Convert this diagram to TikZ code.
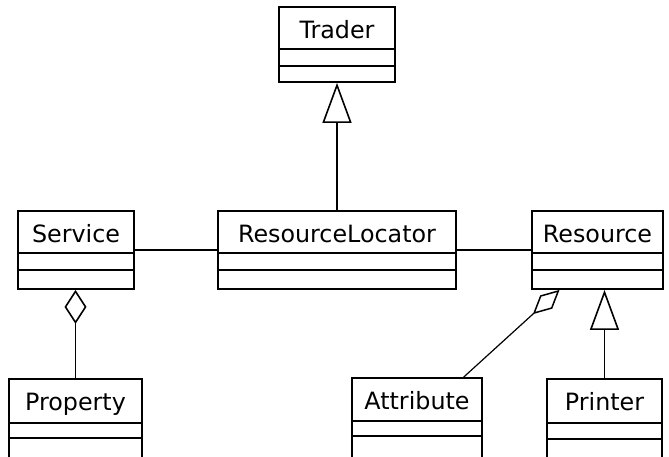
\documentclass[tikz,border=0pt]{standalone}
\usepackage{fontspec}
\setmainfont{DejaVu Sans}
\usetikzlibrary{arrows.meta,fit,calc}
\tikzset{
  classbox/.style={draw, inner sep=0pt, line width=1.8pt},
  divider/.style={line width=1.8pt},
  classlabel/.style={anchor=base, inner sep=0pt, font=\fontsize{23.8}{27}\selectfont},
  assoc/.style={line width=1.8pt},
  gen/.style={line width=1.8pt, -{Triangle[open, length=40pt, width=29pt, line width=1.6pt]}},
  aggr/.style={line width=1.8pt, -{Diamond[open, length=34pt, width=22pt, line width=1.6pt]}},
  aggrthin/.style={line width=1.2pt, -{Diamond[open, length=36pt, width=18pt, line width=1.5pt]}},
}
% name, x1, y1, x2, y2, div1, div2, label
\newcommand\umlclass[8]{%
  \node[classbox, fit={(#2,#3) (#4,#5)}] (#1) {};
  \draw[divider] (#2,#6) -- (#4,#6);
  \draw[divider] (#2,#7) -- (#4,#7);
  \node[classlabel] (#1-label) at ({(#2+#4)/2},{#3+31.5}) {#8};
}
\begin{document}
\begin{tikzpicture}[x=1pt,y=-1pt]
\useasboundingbox (0,0) rectangle (669,456);
\begin{scope}
\clip (0,0) rectangle (669,456);
\umlclass{trader}{279}{7}{395}{82}{49}{66}{Trader}
\umlclass{service}{18}{211}{134}{289}{253}{270}{Service}
\umlclass{locator}{218}{211}{456}{289}{253}{270}{ResourceLocator}
\umlclass{resource}{532}{211}{663}{289}{253}{270}{Resource}
\umlclass{property}{9}{379}{142}{458}{423}{438}{Property}
\umlclass{attribute}{352}{378}{482}{458}{421}{436}{Attribute}
\umlclass{printer}{547}{379}{662}{458}{423}{439}{Printer}

\draw[gen] (locator.north) -- (trader.south);
\draw[assoc] (service.east) -- (locator.west);
\draw[assoc] (locator.east) -- (resource.west);
\draw[aggr] (property.north) -- (property.north |- service.south);
\draw[gen] (printer.north) -- (printer.north |- resource.south);
\coordinate (attrtop) at ($(attribute.north west)!0.854!(attribute.north east)$);
\coordinate (resbot) at ($(resource.south west)!0.214!(resource.south east)$);
\draw[aggrthin] (attrtop) -- (resbot);
\end{scope}
\end{tikzpicture}
\end{document}
